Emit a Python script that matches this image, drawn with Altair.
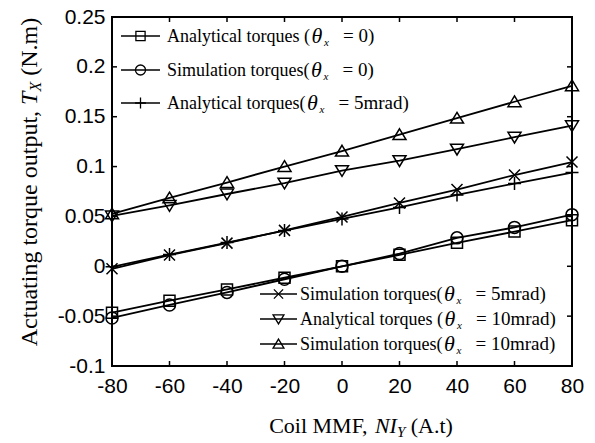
import altair as alt
import pandas as pd

# ---------------- data ----------------
coil_mmf = [-80, -60, -40, -20, 0, 20, 40, 60, 80]
analytical_0 = [-0.0465, -0.0345, -0.0232, -0.0115, 0.0, 0.0115, 0.0235, 0.0348, 0.0462]
simulation_0 = [-0.0518, -0.0388, -0.0262, -0.0130, 0.0, 0.0127, 0.0285, 0.0390, 0.0518]
analytical_5 = [-0.0005, 0.0118, 0.0238, 0.0358, 0.0475, 0.0590, 0.0715, 0.0830, 0.0940]
simulation_5 = [-0.0025, 0.0113, 0.0232, 0.0360, 0.0495, 0.0635, 0.0770, 0.0915, 0.1045]
analytical_10 = [0.0505, 0.0610, 0.0725, 0.0835, 0.0960, 0.1060, 0.1175, 0.1295, 0.1410]
simulation_10 = [0.0525, 0.0685, 0.0840, 0.1000, 0.1155, 0.1320, 0.1485, 0.1650, 0.1810]

series_keys = ["A0", "S0", "A5", "S5", "A10", "S10"]
series_values = [analytical_0, simulation_0, analytical_5, simulation_5, analytical_10, simulation_10]
legend_prefix = ["Analytical torques (", "Simulation torques(", "Analytical torques(",
                 "Simulation torques(", "Analytical torques (", "Simulation torques("]
legend_suffix = ["= 0)", "= 0)", "= 5mrad)", "= 5mrad)", "= 10mrad)", "= 10mrad)"]

x_ticks = [-80, -60, -40, -20, 0, 20, 40, 60, 80]
y_ticks = [-0.1, -0.05, 0.0, 0.05, 0.1, 0.15, 0.2, 0.25]

# ---------------- styles / layout ----------------
W, H = 460, 349
SERIF = "Liberation Serif"
SANS = "Liberation Sans"

marker_paths = {
    "A0": "M-1,-1H1V1H-1Z",
    "S0": "circle",
    "A5": "M-1,0H1M0,-1V1",
    "S5": "M-1,-1L1,1M-1,1L1,-1",
    "A10": "M-1,-0.75L1,-0.75L0,0.9Z",
    "S10": "M0,-0.9L1,0.75L-1,0.75Z",
}
marker_sizes = {"A0": 121, "S0": 144, "A5": 169, "S5": 121, "A10": 169, "S10": 169}

# Times / Liberation Serif advance widths (per 1000 em)
REG = {' ': 250, '(': 333, ')': 333, ',': 250, '.': 250, '=': 564, '0': 500, '1': 500, '5': 500,
       'A': 722, 'C': 667, 'F': 556, 'I': 333, 'M': 889, 'N': 722, 'S': 556, 'T': 611,
       'a': 444, 'c': 444, 'd': 500, 'e': 444, 'g': 500, 'i': 278, 'l': 278, 'm': 778, 'n': 500,
       'o': 500, 'p': 500, 'q': 500, 'r': 333, 's': 389, 't': 278, 'u': 500, 'y': 500, 'x': 500}
ITA = {'N': 667, 'I': 333, 'T': 556, 'X': 611, 'Y': 556, 'x': 444}


def tw(s, size, table=REG):
    return sum(table.get(c, 500) for c in s) * size / 1000.0


one = pd.DataFrame({"k": [0]})


def text_layer(txt, x, y, size, italic=False, angle=None, align="left", font=SERIF):
    kw = dict(fontSize=size, font=font, align=align, baseline="alphabetic", color="black")
    if italic:
        kw["fontStyle"] = "italic"
    if angle is not None:
        kw["angle"] = angle
    return alt.Chart(pd.DataFrame({"label": [txt]})).mark_text(**kw).encode(
        x=alt.value(x), y=alt.value(y), text="label:N")


# ---------------- main data ----------------
rows = []
for key, vals in zip(series_keys, series_values):
    for xv, yv in zip(coil_mmf, vals):
        rows.append({"x": xv, "y": yv, "series": key})
df = pd.DataFrame(rows)

xscale = alt.Scale(domain=[-80, 80], nice=False, zero=False)
yscale = alt.Scale(domain=[-0.1, 0.25], nice=False, zero=False)

xaxis = alt.Axis(values=x_ticks, labelPadding=9, labelFlush=False, labelOverlap=False,
                 labelExpr="datum.value < 0 ? '-' + format(-datum.value, 'd') : format(datum.value, 'd')")
yaxis = alt.Axis(values=y_ticks, labelPadding=7, labelFlush=False, labelOverlap=False,
                 labelExpr="datum.value < -0.0001 ? '-' + format(-datum.value, '~g') : format(abs(datum.value), '~g')")

layers = []
lines = alt.Chart(df).mark_line(color="black", strokeWidth=1.8).encode(
    x=alt.X("x:Q", scale=xscale, axis=xaxis, title=None),
    y=alt.Y("y:Q", scale=yscale, axis=yaxis, title=None),
    detail="series:N",
)
layers.append(lines)

for key in series_keys:
    pts = alt.Chart(df[df.series == key]).mark_point(
        shape=marker_paths[key], size=marker_sizes[key], filled=False, color="black",
        strokeWidth=1.5, opacity=1).encode(
        x=alt.X("x:Q", scale=xscale, title=None),
        y=alt.Y("y:Q", scale=yscale, title=None),
    )
    layers.append(pts)

# inward ticks on all four sides
xt = pd.DataFrame({"x": x_ticks})
yt = pd.DataFrame({"y": y_ticks})
TL = 5
layers.append(alt.Chart(xt).mark_rule(color="black", strokeWidth=1.5).encode(
    x=alt.X("x:Q", scale=xscale, title=None), y=alt.value(H), y2=alt.value(H - TL)))
layers.append(alt.Chart(xt).mark_rule(color="black", strokeWidth=1.5).encode(
    x=alt.X("x:Q", scale=xscale, title=None), y=alt.value(0), y2=alt.value(TL)))
layers.append(alt.Chart(yt).mark_rule(color="black", strokeWidth=1.5).encode(
    y=alt.Y("y:Q", scale=yscale, title=None), x=alt.value(0), x2=alt.value(TL)))
layers.append(alt.Chart(yt).mark_rule(color="black", strokeWidth=1.5).encode(
    y=alt.Y("y:Q", scale=yscale, title=None), x=alt.value(W), x2=alt.value(W - TL)))

# ---------------- legends (two groups, drawn manually) ----------------
LFS = 18
SFS = 19
groups = [
    dict(keys=[0, 1, 2], line=(9, 48), text_x=55, rows=[19, 53, 86]),
    dict(keys=[3, 4, 5], line=(148, 185), text_x=188, rows=[277, 302, 327]),
]
for g in groups:
    x1, x2 = g["line"]
    cx = (x1 + x2) / 2
    for idx, ry in zip(g["keys"], g["rows"]):
        key = series_keys[idx]
        layers.append(alt.Chart(one).mark_rule(color="black", strokeWidth=1.5).encode(
            x=alt.value(x1), x2=alt.value(x2), y=alt.value(ry)))
        layers.append(alt.Chart(one).mark_point(
            shape=marker_paths[key], size=marker_sizes[key] * 0.7, filled=False,
            color="black", strokeWidth=1.3, opacity=1).encode(x=alt.value(cx), y=alt.value(ry)))
        tx = g["text_x"]
        base_y = ry + 6
        pre = legend_prefix[idx]
        layers.append(text_layer(pre, tx, base_y, LFS))
        p_end = tx + tw(pre, LFS)
        layers.append(text_layer("θ", p_end + 1.5, base_y + 1, 22, italic=True))
        layers.append(text_layer("x", p_end + 14, base_y + 4, 11, italic=True))
        layers.append(text_layer(legend_suffix[idx], p_end + 33, base_y, SFS))

# ---------------- axis titles (rich text) ----------------
XFS = 22
SUBF = 15
parts_x = [("Coil MMF, ", XFS, False, 0), ("NI", XFS, True, 0), ("Y", SUBF, True, 4), (" (A.t)", XFS, False, 0)]
total = 0
for s, fs, it, _ in parts_x:
    total += tw(s, fs, ITA if it else REG)
cx_title = 361 - 112
pos = cx_title - total / 2
x_base = 433 - 17
for s, fs, it, dy in parts_x:
    lead = tw(' ', fs) if s.startswith(' ') else 0
    layers.append(text_layer(s.strip(), pos + lead, x_base + dy, fs, italic=it))
    pos += tw(s, fs, ITA if it else REG)

YFS = 24
YSUB = 16
parts_y = [("Actuating torque output, ", YFS, False, 0), ("T", YFS, True, 0), ("X", YSUB, True, 4), (" (N.m)", YFS, False, 0)]
total = 0
for s, fs, it, _ in parts_y:
    total += tw(s, fs, ITA if it else REG)
cy_title = 182 - 17
pos = cy_title + total / 2
y_base_x = 37 - 112
for s, fs, it, dx in parts_y:
    lead = tw(' ', fs) if s.startswith(' ') else 0
    layers.append(text_layer(s.strip(), y_base_x + dx, pos - lead, fs, italic=it, angle=270))
    pos -= tw(s, fs, ITA if it else REG)

chart = alt.layer(*layers).properties(
    width=W, height=H,
    padding={"left": 112, "top": 17, "right": 23, "bottom": 77},
    autosize=alt.AutoSizeParams(type="none"),
    background="white",
).configure_view(stroke="black", strokeWidth=2).configure_axis(
    grid=False, domain=False, ticks=False, labelFont=SANS, labelFontSize=21, labelColor="black",
)

chart.save("out.html", embed_options={"renderer": "svg", "actions": False})
